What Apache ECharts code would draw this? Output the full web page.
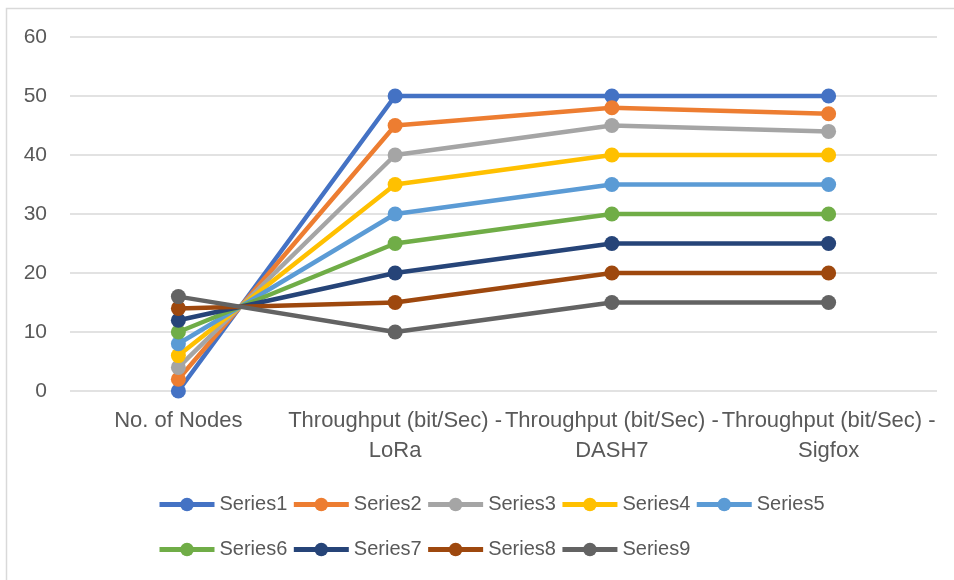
<!DOCTYPE html>
<html>
<head>
<meta charset="utf-8">
<script src="https://cdn.jsdelivr.net/npm/echarts@6/dist/echarts.min.js"></script>
<style>
  html, body { margin: 0; padding: 0; background: #ffffff; }
  #chart { width: 954px; height: 580px; }
</style>
</head>
<body>
<div id="chart"></div>
<script>
// Categories along the x axis
const categories = [
  'No. of Nodes',
  'Throughput (bit/Sec) - LoRa',
  'Throughput (bit/Sec) - DASH7',
  'Throughput (bit/Sec) - Sigfox'
];

// Series values, one array per series
const series1 = [0, 50, 50, 50];
const series2 = [2, 45, 48, 47];
const series3 = [4, 40, 45, 44];
const series4 = [6, 35, 40, 40];
const series5 = [8, 30, 35, 35];
const series6 = [10, 25, 30, 30];
const series7 = [12, 20, 25, 25];
const series8 = [14, 15, 20, 20];
const series9 = [16, 10, 15, 15];

const seriesNames = ['Series1', 'Series2', 'Series3', 'Series4', 'Series5',
                     'Series6', 'Series7', 'Series8', 'Series9'];
const seriesValues = [series1, series2, series3, series4, series5,
                      series6, series7, series8, series9];

// Value axis ticks
const yTicks = [0, 10, 20, 30, 40, 50, 60];

const colors = ['#4472C4', '#ED7D31', '#A5A5A5', '#FFC000', '#5B9BD5',
                '#70AD47', '#264478', '#9E480E', '#636363'];

const FONT = '"Liberation Sans", Arial, sans-serif';
const TEXT = '#595959';
const GRID = '#D9D9D9';

const chart = echarts.init(document.getElementById('chart'), null, { renderer: 'canvas' });

chart.setOption({
  animation: false,
  color: colors,
  textStyle: { fontFamily: FONT },
  graphic: [{
    type: 'rect',
    silent: true,
    shape: { x: 6.5, y: 8.5, width: 1200, height: 1200 },
    style: { fill: 'none', stroke: GRID, lineWidth: 1.5 }
  }],
  grid: { left: 70, right: 17, top: 37, bottom: 189, containLabel: false },
  xAxis: {
    type: 'category',
    data: categories,
    boundaryGap: true,
    axisLine: { show: false },
    axisTick: { show: false },
    axisLabel: {
      interval: 0,
      margin: 15,
      color: TEXT,
      fontFamily: FONT,
      fontSize: 22,
      lineHeight: 30,
      formatter: v => v.replace(' - ', ' -\n')
    }
  },
  yAxis: {
    type: 'value',
    min: yTicks[0],
    max: yTicks[yTicks.length - 1],
    interval: 10,
    axisLine: { show: false },
    axisTick: { show: false },
    axisLabel: { margin: 23, color: TEXT, fontFamily: FONT, fontSize: 21 },
    splitLine: { lineStyle: { color: GRID, width: 1.5 } }
  },
  legend: {
    left: 152,
    top: 479,
    width: 700,
    orient: 'horizontal',
    itemWidth: 55,
    itemHeight: 17,
    itemGap: 4,
    selectedMode: false,
    lineStyle: { width: 5 },
    textStyle: { color: TEXT, fontFamily: FONT, fontSize: 20, lineHeight: 41, width: 67 },
    data: seriesNames
  },
  series: seriesNames.map((name, i) => ({
    name: name,
    type: 'line',
    data: seriesValues[i],
    symbol: 'circle',
    symbolSize: 15,
    lineStyle: { width: 4.5 },
    itemStyle: { color: colors[i] }
  }))
});
</script>
</body>
</html>
